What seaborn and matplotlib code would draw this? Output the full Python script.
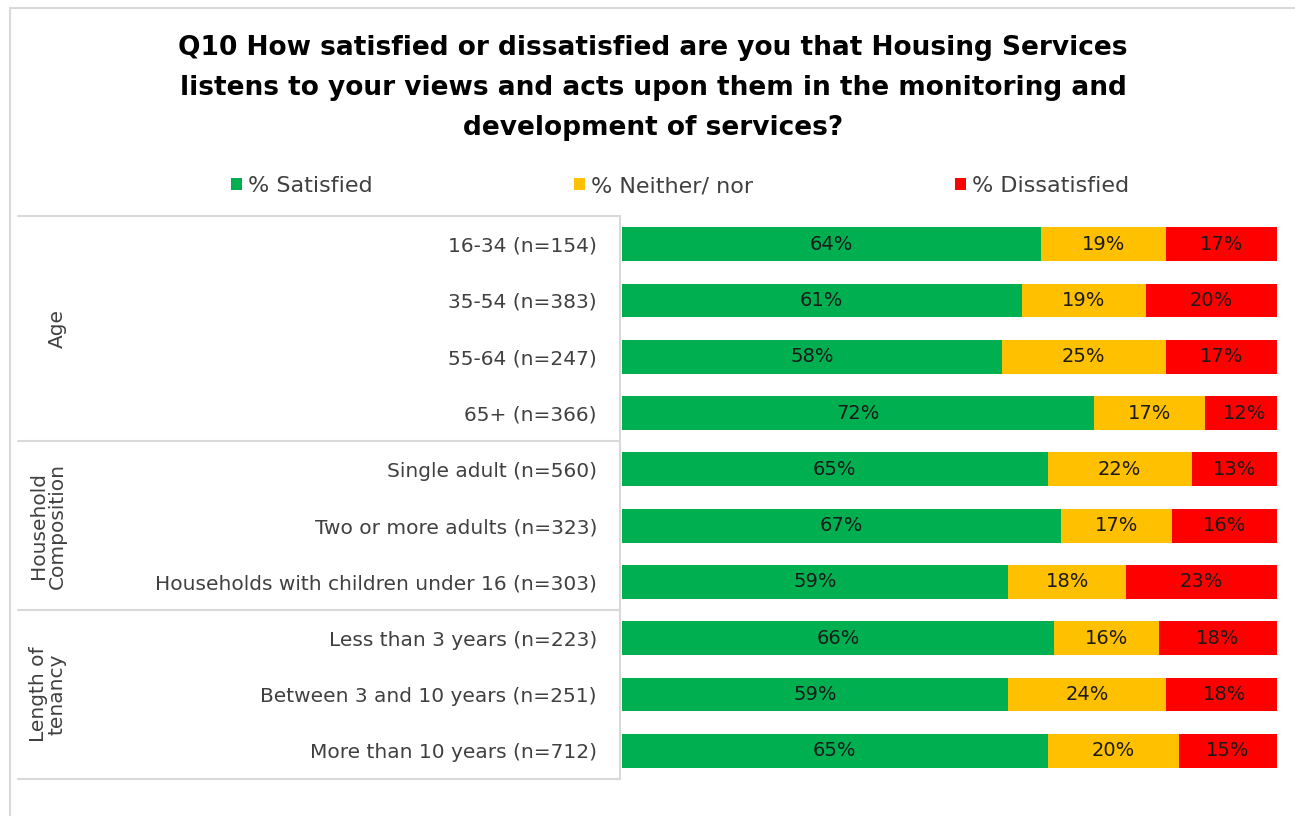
import matplotlib
matplotlib.use("Agg")
import matplotlib.pyplot as plt
import matplotlib.transforms as mtransforms
from matplotlib.lines import Line2D
from matplotlib.patches import Patch
import seaborn as sns
import pandas as pd

# Survey results by respondent group
categories = [
    "16-34 (n=154)",
    "35-54 (n=383)",
    "55-64 (n=247)",
    "65+ (n=366)",
    "Single adult (n=560)",
    "Two or more adults (n=323)",
    "Households with children under 16 (n=303)",
    "Less than 3 years (n=223)",
    "Between 3 and 10 years (n=251)",
    "More than 10 years (n=712)",
]
satisfied = [64, 61, 58, 72, 65, 67, 59, 66, 59, 65]
neither = [19, 19, 25, 17, 22, 17, 18, 16, 24, 20]
dissatisfied = [17, 20, 17, 12, 13, 16, 23, 18, 18, 15]

groups = ["Age", "Household\nComposition", "Length of\ntenancy"]
group_rows = [(0, 3), (4, 6), (7, 9)]

series_names = ["% Satisfied", "% Neither/ nor", "% Dissatisfied"]
colors = ["#00B050", "#FFC000", "#FF0000"]

title_lines = [
    "Q10 How satisfied or dissatisfied are you that Housing Services",
    "listens to your views and acts upon them in the monitoring and",
    "development of services?",
]

df = pd.DataFrame({
    "category": categories,
    "sat": satisfied,
    "nei": neither,
    "dis": dissatisfied,
})
df["c1"] = df["sat"]
df["c2"] = df["sat"] + df["nei"]
df["c3"] = df["sat"] + df["nei"] + df["dis"]

sns.set_theme(style="white")
plt.rcParams["font.family"] = ["DejaVu Sans"]

W, H = 1295, 816
fig = plt.figure(figsize=(W / 100, H / 100), dpi=100)
fig.patch.set_facecolor("white")

ax = fig.add_axes([622 / W, 1 - 779 / H, 655 / W, 563 / H])

# Stacked bars: draw the cumulative totals back to front
for col, color in zip(["c3", "c2", "c1"], colors[::-1]):
    sns.barplot(data=df, x=col, y="category", orient="h", color=color,
                width=0.6, linewidth=0, saturation=1, ax=ax)

ax.set_xlim(0, 100)
ax.set_ylim(len(categories) - 0.5, -0.5)
ax.set_xlabel("")
ax.set_ylabel("")
ax.set_xticks([])
for s in ax.spines.values():
    s.set_visible(False)
ax.tick_params(axis="y", length=0, pad=18, labelsize=14.5, labelcolor="#404040")

# Segment value labels
for i, row in df.iterrows():
    starts = [0, row["c1"], row["c2"]]
    vals = [row["sat"], row["nei"], row["dis"]]
    for st, v in zip(starts, vals):
        ax.text(st + v / 2, i, f"{v}%", ha="center", va="center",
                fontsize=14, color="#1a1a1a", clip_on=False)

# Group table lines and group labels
grid_color = "#d9d9d9"
trans = mtransforms.blended_transform_factory(fig.transFigure, ax.transData)
for yb in [-0.5, 3.5, 6.5, 9.5]:
    ax.add_line(Line2D([18 / W, 620 / W], [yb, yb], transform=trans,
                       color=grid_color, lw=1.5, clip_on=False))
ax.add_line(Line2D([620 / W, 620 / W], [-0.5, 9.5], transform=trans,
                   color=grid_color, lw=1.5, clip_on=False))

group_x = [57, 48, 48]
for name, (a, b), gx in zip(groups, group_rows, group_x):
    ax.text(gx / W, (a + b) / 2, name, transform=trans, rotation=90,
            ha="center", va="center", fontsize=14.5, color="#404040",
            linespacing=0.95, multialignment="center")

# Title
for k, line in enumerate(title_lines):
    fig.text(653 / W, 1 - (48 + 40 * k) / H, line, ha="center", va="center",
             fontsize=19, fontweight="bold", color="#000000")

# Legend
handles = [Patch(facecolor=c, edgecolor="none", label=n)
           for c, n in zip(colors, series_names)]
fig.legend(handles=handles, loc="center", bbox_to_anchor=(680 / W, 1 - 186 / H),
           ncol=3, frameon=False, fontsize=16, handlelength=0.5, handleheight=0.5,
           handletextpad=0.25, columnspacing=9.1, labelcolor="#404040")

# Outer frame (top and left edges)
fig.add_artist(Line2D([10 / W, 1], [1 - 8 / H, 1 - 8 / H], transform=fig.transFigure,
                      color=grid_color, lw=1.5))
fig.add_artist(Line2D([10 / W, 10 / W], [0, 1 - 8 / H], transform=fig.transFigure,
                      color=grid_color, lw=1.5))

fig.savefig("out.png", dpi=100, facecolor="white")
